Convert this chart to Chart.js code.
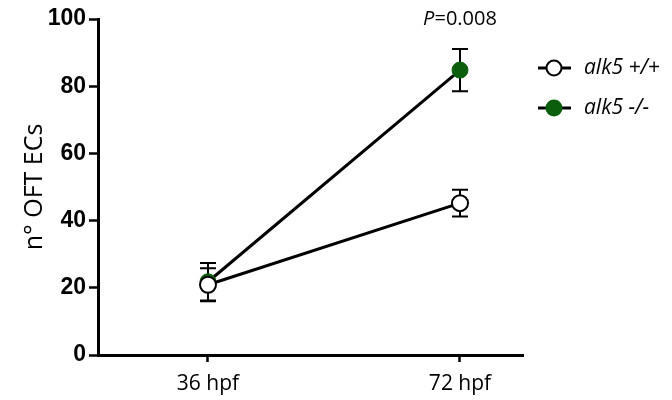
<!DOCTYPE html>
<html>
<head>
<meta charset="utf-8">
<script src="https://cdn.jsdelivr.net/npm/chart.js@4"></script>
<style>
  html, body { margin: 0; padding: 0; background: #fff; }
  #wrap { width: 672px; height: 400px; position: relative; }
</style>
</head>
<body>
<div id="wrap"><canvas id="chart" width="672" height="400"></canvas></div>
<script>
const categories = ["36 hpf", "72 hpf"];
const wtMean = [20.9, 45.2];
const wtErr = [4.9, 4.0];
const koMean = [21.8, 84.8];
const koErr = [5.6, 6.3];
const yTicks = [0, 20, 40, 60, 80, 100];
const pLabel = "0.008";

const green = "#0b5e0b";

// error bars drawn under the points, through the chart's own scales
const errorBars = {
    id: "errorBars",
    beforeDatasetsDraw(chart) {
        const ctx = chart.ctx;
        const xs = chart.scales.x, ys = chart.scales.y;
        const sets = [[wtMean, wtErr], [koMean, koErr]];
        ctx.save();
        ctx.strokeStyle = "#000";
        ctx.lineWidth = 2;
        sets.forEach(([m, e]) => {
            m.forEach((v, i) => {
                const x = xs.getPixelForValue(i);
                const yt = ys.getPixelForValue(v + e[i]);
                const yb = ys.getPixelForValue(v - e[i]);
                ctx.beginPath();
                ctx.moveTo(x, yt); ctx.lineTo(x, yb);
                ctx.moveTo(x - 8, yt); ctx.lineTo(x + 8, yt);
                ctx.moveTo(x - 8, yb); ctx.lineTo(x + 8, yb);
                ctx.stroke();
            });
        });
        ctx.restore();
    },
    afterDraw(chart) {
        const ctx = chart.ctx;
        const xs = chart.scales.x, ys = chart.scales.y;
        ctx.save();
        // P value above the 72 hpf point
        ctx.fillStyle = "#000";
        ctx.textBaseline = "middle";
        const px = xs.getPixelForValue(1);
        ctx.font = "italic 20px 'Open Sans'";
        const w1 = ctx.measureText("P").width;
        ctx.font = "20px 'Open Sans'";
        const w2 = ctx.measureText("=" + pLabel).width;
        const sx = px - (w1 + w2) / 2;
        ctx.textAlign = "left";
        ctx.font = "italic 20px 'Open Sans'";
        ctx.fillText("P", sx, ys.top);
        ctx.font = "20px 'Open Sans'";
        ctx.fillText("=" + pLabel, sx + w1, ys.top);

        // legend
        const items = [
            { label: "alk5 +/+", fill: "#fff", border: "#000" },
            { label: "alk5 -/-", fill: green, border: green }
        ];
        items.forEach((it, k) => {
            const y = 68 + k * 40;
            ctx.strokeStyle = "#000";
            ctx.lineWidth = 3;
            ctx.beginPath();
            ctx.moveTo(538, y); ctx.lineTo(571, y);
            ctx.stroke();
            ctx.beginPath();
            ctx.arc(554, y, 7.5, 0, Math.PI * 2);
            ctx.fillStyle = it.fill;
            ctx.fill();
            ctx.lineWidth = 2;
            ctx.strokeStyle = it.border;
            ctx.stroke();
            ctx.fillStyle = "#000";
            ctx.font = "italic 21px 'Open Sans'";
            ctx.fillText(it.label, 584, y);
        });
        ctx.restore();
    }
};

const chart = new Chart(document.getElementById("chart"), {
    type: "line",
    data: {
        labels: categories,
        datasets: [
            {
                label: "alk5 +/+",
                data: wtMean.map((v, i) => ({ x: i, y: v })),
                borderColor: "#000",
                borderWidth: 3,
                pointRadius: 8,
                pointBackgroundColor: "#fff",
                pointBorderColor: "#000",
                pointBorderWidth: 2
            },
            {
                label: "alk5 -/-",
                data: koMean.map((v, i) => ({ x: i, y: v })),
                borderColor: "#000",
                borderWidth: 3,
                pointRadius: 8,
                pointBackgroundColor: green,
                pointBorderColor: green,
                pointBorderWidth: 1
            }
        ]
    },
    options: {
        responsive: false,
        animation: false,
        layout: { padding: { left: 4, right: 149, top: 19, bottom: 0 } },
        plugins: {
            legend: { display: false },
            tooltip: { enabled: false }
        },
        scales: {
            x: {
                type: "linear",
                min: -0.4365,
                max: 1.25,
                afterBuildTicks: (s) => { s.ticks = categories.map((c, i) => ({ value: i })); },
                afterFit: (s) => { s.height = 45; },
                grid: { drawOnChartArea: false, tickLength: 7, tickWidth: 2.5, color: "#000" },
                border: { color: "#000", width: 3 },
                ticks: {
                    callback: (v) => categories[v],
                    color: "#000",
                    padding: 9,
                    maxRotation: 0,
                    font: { family: "'Open Sans'", size: 21 }
                }
            },
            y: {
                min: 0,
                max: 100,
                afterBuildTicks: (s) => { s.ticks = yTicks.map(v => ({ value: v })); },
                afterFit: (s) => { s.width = 94; },
                grid: { drawOnChartArea: false, tickLength: 9, tickWidth: 2.5, color: "#000" },
                border: { color: "#000", width: 3 },
                title: {
                    display: true,
                    text: "n° OFT ECs",
                    color: "#000",
                    padding: { top: 16, bottom: 4 },
                    font: { family: "'Open Sans'", size: 25 }
                },
                ticks: {
                    color: "#000",
                    padding: 3,
                    font: { family: "'Liberation Sans'", size: 23, weight: "bold" }
                }
            }
        }
    },
    plugins: [errorBars]
});
</script>
</body>
</html>
